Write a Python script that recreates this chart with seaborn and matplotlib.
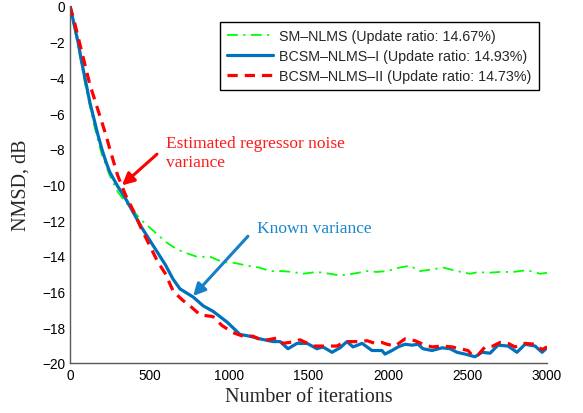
import numpy as np
import pandas as pd
import matplotlib
matplotlib.use("Agg")
import matplotlib.pyplot as plt
import seaborn as sns

# --- data --------------------------------------------------------------------
sm_iter = [0, 25, 50, 75, 100, 125, 150, 175, 200, 225, 250, 300, 350, 400, 450, 500, 550,
           600, 650, 692, 750, 799, 881, 962, 1040, 1113, 1190, 1258, 1330, 1403, 1465, 1553,
           1635, 1698, 1780, 1868, 1930, 1994, 2075, 2138, 2201, 2283, 2346, 2434, 2516, 2570,
           2622, 2704, 2786, 2874, 2956, 3000]
sm_db = [0, -1.1, -2.2, -3.4, -4.6, -5.6, -6.6, -7.5, -8.3, -8.9, -9.5, -10.4, -11.0, -11.5,
         -12.0, -12.4, -12.8, -13.2, -13.5, -13.7, -13.9, -14.05, -14.05, -14.35, -14.4, -14.55,
         -14.65, -14.85, -14.85, -14.9, -15.0, -14.9, -15.0, -15.1, -15.0, -14.85, -14.9, -14.85,
         -14.65, -14.55, -14.85, -14.75, -14.65, -14.85, -15.0, -14.9, -14.95, -14.9, -14.9,
         -14.8, -15.0, -14.95]

b1_iter = [0, 25, 50, 75, 100, 125, 150, 175, 200, 225, 250, 300, 350, 400, 450, 500, 550,
           600, 648, 692, 774, 838, 899, 987, 1069, 1132, 1195, 1277, 1321, 1371, 1428, 1491,
           1553, 1591, 1648, 1698, 1742, 1780, 1837, 1899, 1962, 1981, 2025, 2063, 2107, 2151,
           2189, 2220, 2277, 2340, 2390, 2434, 2484, 2547, 2591, 2642, 2692, 2755, 2811, 2862,
           2925, 2969, 3000]
b1_db = [0, -1.0, -2.0, -3.2, -4.3, -5.4, -6.3, -7.2, -8.0, -8.7, -9.3, -10.1, -10.8, -11.6,
         -12.4, -13.1, -13.8, -14.5, -15.3, -15.85, -16.3, -16.8, -17.1, -17.7, -18.4, -18.5,
         -18.65, -18.8, -18.8, -19.2, -18.9, -18.9, -19.2, -19.1, -19.4, -19.15, -18.8, -19.1,
         -18.9, -19.3, -19.3, -19.5, -19.3, -19.1, -18.95, -19.0, -18.95, -19.2, -19.3, -19.15,
         -19.2, -19.4, -19.5, -19.65, -19.4, -19.45, -19.0, -19.05, -19.4, -18.95, -19.05,
         -19.4, -19.15]

b2_iter = [0, 25, 50, 75, 100, 125, 150, 175, 200, 225, 250, 300, 350, 400, 450, 500, 550,
           600, 650, 711, 755, 818, 899, 956, 1025, 1088, 1151, 1214, 1302, 1340, 1415, 1447,
           1528, 1604, 1679, 1730, 1824, 1868, 1918, 1962, 1994, 2044, 2107, 2170, 2220, 2277,
           2340, 2403, 2453, 2503, 2528, 2566, 2610, 2660, 2704, 2755, 2799, 2862, 2925, 2969,
           3000]
b2_db = [0, -0.8, -1.7, -2.6, -3.5, -4.4, -5.1, -5.8, -6.5, -7.2, -8.0, -9.5, -10.6, -11.5,
         -12.5, -13.4, -14.3, -15.0, -16.0, -16.5, -16.8, -17.3, -17.4, -17.9, -18.3, -18.5,
         -18.5, -18.75, -18.6, -18.9, -18.8, -18.7, -19.05, -19.05, -19.05, -18.8, -18.8,
         -18.75, -18.9, -18.85, -18.95, -19.05, -18.65, -18.75, -18.95, -19.1, -19.05, -19.1,
         -19.2, -19.3, -19.55, -19.55, -19.1, -19.05, -18.85, -18.9, -19.1, -18.9, -18.95,
         -19.25, -19.1]

labels = ["SM\u2013NLMS (Update ratio: 14.67%)",
          "BCSM\u2013NLMS\u2013I (Update ratio: 14.93%)",
          "BCSM\u2013NLMS\u2013II (Update ratio: 14.73%)"]

# --- style -------------------------------------------------------------------
sns.set_style("white")
plt.rcParams["font.family"] = ["Liberation Sans", "DejaVu Sans"]
SERIF = ["Liberation Serif", "DejaVu Serif"]
AX_GRAY = "#5a5a5a"
BLUE = "#0072BD"

fig = plt.figure(figsize=(5.83, 4.14), dpi=100)
ax = fig.add_axes([70 / 583, 1 - 364 / 414, 477 / 583, 357 / 414])

sns.lineplot(x=sm_iter, y=sm_db, ax=ax, color="#00ff00", lw=1.3,
             linestyle=(0, (6, 3, 1.2, 3)), label=labels[0])
sns.lineplot(x=b1_iter, y=b1_db, ax=ax, color=BLUE, lw=2.3, label=labels[1])
sns.lineplot(x=b2_iter, y=b2_db, ax=ax, color="#ff0000", lw=2.3,
             linestyle=(0, (3.2, 2.2)), label=labels[2])

ax.set_xlim(0, 3000)
ax.set_ylim(-20, 0)
ax.set_xticks(range(0, 3001, 500))
ax.set_yticks(range(-20, 1, 2))
for s in ["top", "right"]:
    ax.spines[s].set_visible(False)
for s in ["left", "bottom"]:
    ax.spines[s].set_color(AX_GRAY)
    ax.spines[s].set_linewidth(1.0)
ax.tick_params(direction="in", length=3.5, width=1.0, color=AX_GRAY, labelsize=9.8,
               labelcolor="black", pad=3.5)

ax.set_xlabel("Number of iterations", family=SERIF, fontsize=14.5)
ax.set_ylabel("NMSD, dB", family=SERIF, fontsize=14.5)
ax.xaxis.set_label_coords(0.5, -0.068)
ax.yaxis.set_label_coords(-0.082, 0.5)

leg = ax.legend(loc="upper right", bbox_to_anchor=(0.983, 0.955), borderaxespad=0,
                fontsize=10.3, fancybox=False, framealpha=1, edgecolor="black",
                handlelength=3.2, labelspacing=0.42, borderpad=0.5, handletextpad=0.45)
leg.get_frame().set_linewidth(1.0)

# annotations
ax.annotate("", xy=(327, -10.05), xytext=(547, -8.3),
            arrowprops=dict(arrowstyle="-|>", color="#ff0000", lw=2.2, mutation_scale=18,
                            shrinkA=0, shrinkB=0))
ax.text(604, -7.25, "Estimated regressor noise\nvariance", color="#ff1a1a", family=SERIF,
        fontsize=12.5, va="top", ha="left", linespacing=1.2)

ax.annotate("", xy=(774, -16.25), xytext=(1119, -12.9),
            arrowprops=dict(arrowstyle="-|>", color="#1580c8", lw=2.2, mutation_scale=18,
                            shrinkA=0, shrinkB=0))
ax.text(1176, -12.0, "Known variance", color="#1a86cc", family=SERIF, fontsize=12.5,
        va="top", ha="left")

fig.savefig("out.png", dpi=100)
